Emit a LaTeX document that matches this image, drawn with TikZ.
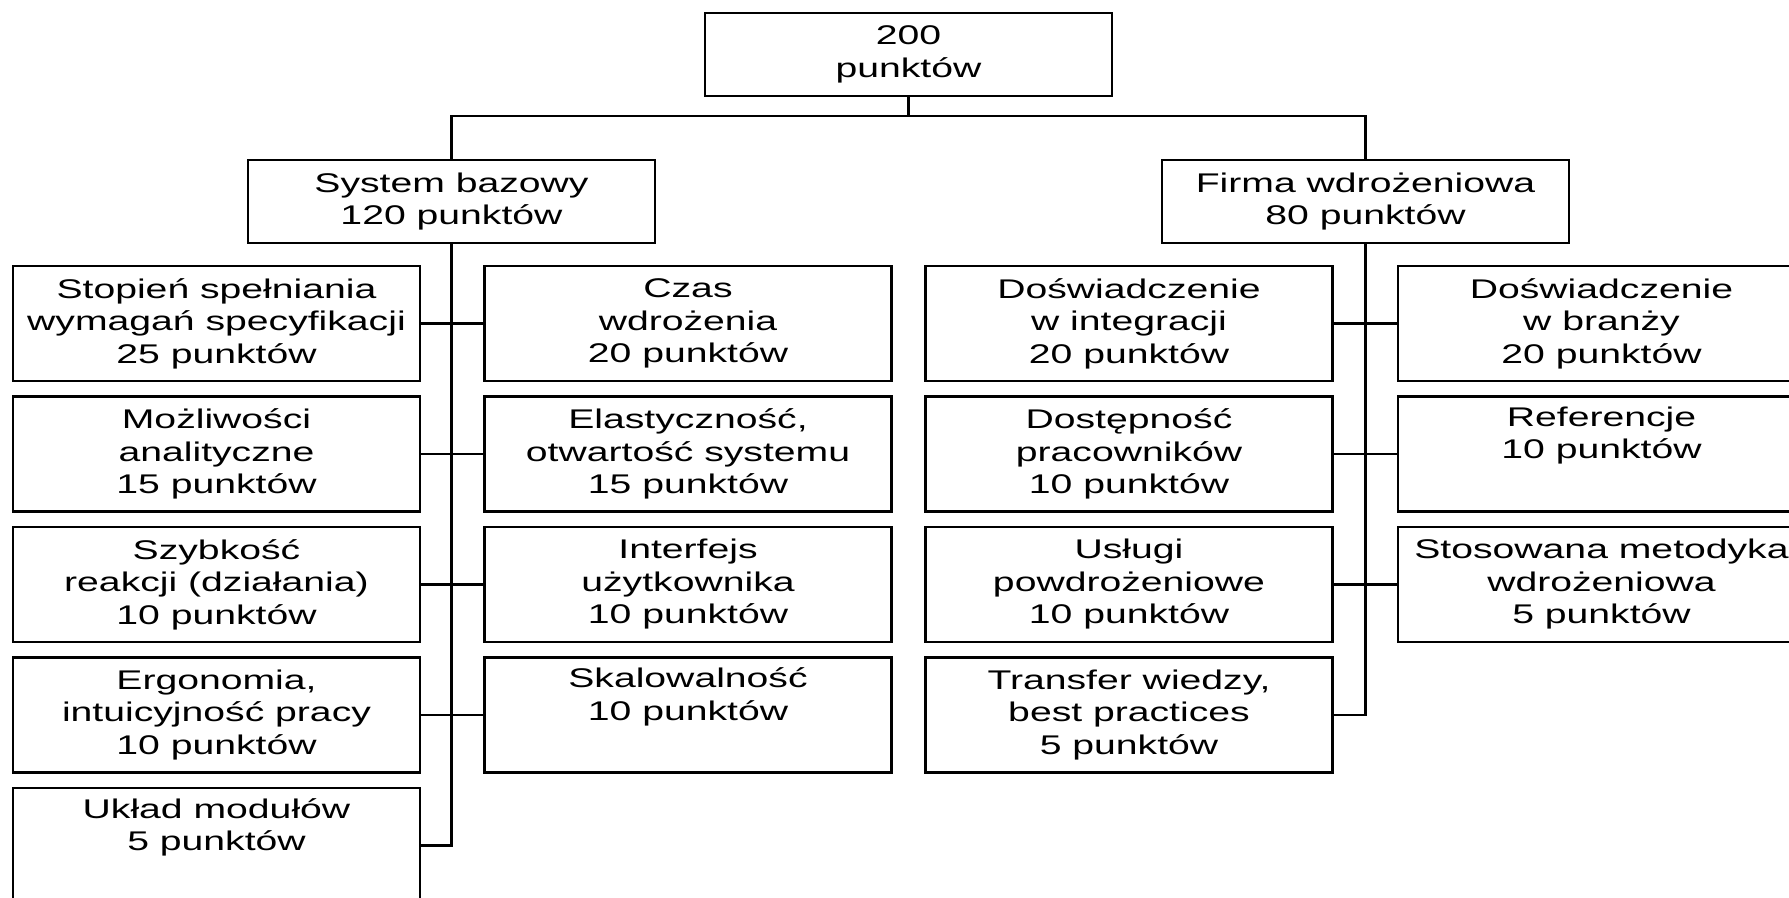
\documentclass[tikz,border=0pt]{standalone}
\usepackage{fontspec}
\setmainfont{Liberation Sans}[FakeStretch=1.45]
\begin{document}
\begin{tikzpicture}[x=0.5pt,y=-0.5pt,
  every node/.style={font=\fontsize{13.5pt}{16.25pt}\selectfont},
  box/.style={draw=black,line width=1.2pt,fill=white,align=center,inner sep=0pt,
              minimum width=203.5pt},
  headbox/.style={box,minimum height=41.5pt},
  itembox/.style={box,minimum height=57.5pt},
  link/.style={draw=black,line width=1.1pt}]
\fill[white] (0,0) rectangle (1789,898);
\clip (0,0) rectangle (1789,898);
\useasboundingbox (0,0) rectangle (1789,898);

% top level
\node[headbox] (top)   at (908.5,54.5)  {200\\punktów};
\node[headbox] (sys)   at (451.5,201.5) {System bazowy\\120 punktów};
\node[headbox] (firma) at (1365.5,201.5) {Firma wdrożeniowa\\80 punktów};

% System bazowy: left column
\node[itembox] (a1) at (216.5,323.5) {Stopień spełniania\\wymagań specyfikacji\\25 punktów};
\node[itembox] (a2) at (216.5,454)   {Możliwości\\analityczne\\15 punktów};
\node[itembox] (a3) at (216.5,584.5) {Szybkość\\reakcji (działania)\\10 punktów};
\node[itembox] (a4) at (216.5,715)   {Ergonomia,\\intuicyjność pracy\\10 punktów};
\node[itembox] (a5) at (216.5,845.5) {Układ modułów\\5 punktów\\\strut};

% System bazowy: right column
\node[itembox] (b1) at (688,323.5) {Czas\\wdrożenia\\20 punktów};
\node[itembox] (b2) at (688,454)   {Elastyczność,\\otwartość systemu\\15 punktów};
\node[itembox] (b3) at (688,584.5) {Interfejs\\użytkownika\\10 punktów};
\node[itembox] (b4) at (688,715)   {Skalowalność\\10 punktów\\\strut};

% Firma wdrożeniowa: left column
\node[itembox] (c1) at (1129,323.5) {Doświadczenie\\w integracji\\20 punktów};
\node[itembox] (c2) at (1129,454)   {Dostępność\\pracowników\\10 punktów};
\node[itembox] (c3) at (1129,584.5) {Usługi\\powdrożeniowe\\10 punktów};
\node[itembox] (c4) at (1129,715)   {Transfer wiedzy,\\best practices\\5 punktów};

% Firma wdrożeniowa: right column
\node[itembox] (d1) at (1601.5,323.5) {Doświadczenie\\w branży\\20 punktów};
\node[itembox] (d2) at (1601.5,454)   {Referencje\\10 punktów\\\strut};
\node[itembox] (d3) at (1601.5,584.5) {Stosowana metodyka\\wdrożeniowa\\5 punktów};

% connectors between levels
\path (sys.north) ++(0,-43) coordinate (busL);
\draw[link] (sys.north) -- (busL) -| (firma.north);
\draw[link] (top.south) -- (top.south |- busL);

% System bazowy spine and branches
\draw[link] (sys.south) |- (a5.east);
\draw[link] (a1.east) -- (b1.west);
\draw[link] (a2.east) -- (b2.west);
\draw[link] (a3.east) -- (b3.west);
\draw[link] (a4.east) -- (b4.west);

% Firma wdrożeniowa spine and branches
\draw[link] (firma.south) |- (c4.east);
\draw[link] (c1.east) -- (d1.west);
\draw[link] (c2.east) -- (d2.west);
\draw[link] (c3.east) -- (d3.west);
\end{tikzpicture}
\end{document}
